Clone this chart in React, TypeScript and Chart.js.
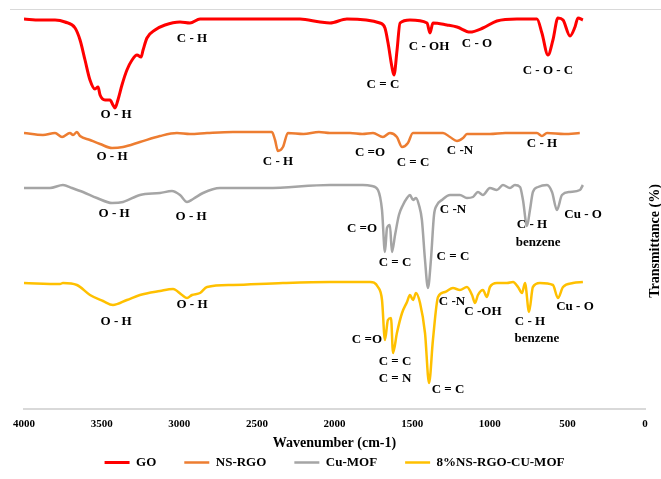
import React, { useEffect, useRef } from 'react';
import { Chart, registerables } from 'chart.js';

Chart.register(...registerables);

const FONT = "'Liberation Serif', 'Times New Roman', serif";

const SERIES_NAMES = ['GO', 'NS-RGO', 'Cu-MOF', '8%NS-RGO-CU-MOF'];
const SERIES_COLORS = ['#FF0000', '#ED7D31', '#A5A5A5', '#FFC000'];
const SERIES_WIDTHS = [3, 2.5, 2.5, 2.5];

const X_TICK_STEP = 500;
const X_MIN = 0;
const X_MAX = 4000;
const Y_MIN = 0;
const Y_MAX = 400;

// GO (offset transmittance, arbitrary units)
const GO_WN = [4000, 3897, 3800, 3736, 3671, 3639, 3607, 3575, 3543, 3523, 3510, 3478, 3446, 3427, 3414, 3395, 3369, 3337, 3304, 3272, 3246, 3233, 3208, 3156, 3092, 2995, 2931, 2866, 2609, 2351, 2222, 2093, 2029, 1920, 1707, 1675, 1655, 1630, 1617, 1597, 1578, 1514, 1404, 1385, 1366, 1276, 1211, 1127, 1044, 954, 825, 696, 664, 625, 593, 561, 528, 483, 451, 432, 400];
const GO_T = [390, 389, 389, 387, 381, 369, 349, 329, 320, 322, 314, 309, 309, 304, 301, 309, 324, 339, 349, 354, 352, 359, 371, 379, 384, 387, 386, 390, 390, 390, 390, 387, 386, 390, 386, 381, 366, 342, 334, 359, 386, 389, 386, 376, 386, 384, 382, 377, 381, 388, 390, 390, 376, 354, 369, 391, 389, 373, 382, 391, 389];

// NS-RGO
const NS_WN = [4000, 3878, 3800, 3755, 3704, 3684, 3659, 3639, 3575, 3510, 3433, 3362, 3253, 3124, 3015, 2931, 2821, 2654, 2403, 2383, 2364, 2332, 2300, 2200, 2100, 2029, 1900, 1820, 1752, 1688, 1643, 1598, 1565, 1527, 1495, 1385, 1301, 1256, 1211, 1172, 1147, 999, 900, 825, 696, 664, 631, 520, 420];
const NS_T = [276, 274, 276, 272, 276, 274, 277, 273, 269, 265, 261, 262, 267, 273, 276, 275, 276, 277, 277, 269, 258, 262, 276, 275, 277, 276, 276, 275, 276, 272, 276, 272, 262, 266, 276, 276, 276, 272, 268, 271, 275, 275, 276, 276, 276, 273, 276, 275, 276];

// Cu-MOF
const CU_WN = [4000, 3833, 3749, 3691, 3620, 3530, 3433, 3362, 3253, 3124, 3047, 2995, 2950, 2911, 2847, 2738, 2435, 2029, 1817, 1759, 1720, 1694, 1675, 1662, 1643, 1630, 1610, 1585, 1559, 1533, 1514, 1494, 1475, 1456, 1437, 1417, 1398, 1379, 1359, 1340, 1308, 1256, 1192, 1147, 1108, 1076, 1044, 999, 954, 915, 870, 838, 805, 786, 760, 741, 722, 689, 631, 599, 567, 535, 483, 419, 400];
const CU_T = [221, 221, 224, 221, 217, 211, 206, 207, 214, 216, 218, 214, 207, 210, 216, 221, 221, 224, 224, 223, 219, 199, 157, 181, 184, 157, 174, 194, 204, 211, 214, 209, 211, 204, 189, 149, 121, 149, 194, 204, 209, 214, 214, 211, 212, 217, 214, 221, 219, 224, 221, 224, 222, 209, 183, 199, 217, 222, 224, 217, 199, 214, 217, 219, 224];

// 8%NS-RGO-CU-MOF
const NC_WN = [4000, 3768, 3749, 3659, 3575, 3491, 3427, 3337, 3253, 3124, 3040, 2982, 2950, 2918, 2866, 2821, 2654, 2332, 2029, 1771, 1720, 1694, 1675, 1656, 1636, 1623, 1598, 1565, 1533, 1514, 1494, 1475, 1449, 1417, 1391, 1366, 1333, 1288, 1237, 1192, 1147, 1114, 1095, 1076, 1044, 1018, 999, 954, 889, 850, 818, 792, 773, 747, 722, 677, 593, 561, 528, 464, 400];
const NC_T = [126, 125, 126, 124, 114, 108, 104, 109, 114, 118, 120, 114, 111, 114, 116, 122, 124, 126, 127, 127, 122, 109, 69, 89, 91, 56, 76, 96, 107, 114, 109, 116, 106, 76, 26, 69, 112, 117, 121, 119, 122, 114, 106, 114, 119, 112, 122, 126, 126, 127, 122, 116, 126, 97, 122, 126, 124, 111, 122, 126, 127];

// Peak labels: [text, wavenumber, value]
const GO_LABELS: [string, number, number][] = [
  ['O - H', 3407, 294],
  ['C - H', 2918, 370],
  ['C = C', 1688, 324],
  ['C - OH', 1391, 362],
  ['C - O', 1082, 365],
  ['C - O - C', 625, 338],
];
const NS_LABELS: [string, number, number][] = [
  ['O - H', 3433, 252],
  ['C - H', 2364, 247],
  ['C =O', 1771, 256],
  ['C = C', 1494, 246],
  ['C -N', 1192, 258],
  ['C - H', 664, 265],
];
const CU_LABELS: [string, number, number][] = [
  ['O - H', 3420, 195],
  ['O - H', 2924, 192],
  ['C =O', 1823, 180],
  ['C = C', 1610, 146],
  ['C = C', 1237, 152],
  ['C -N', 1237, 199],
  ['C - H', 728, 184],
  ['benzene', 689, 166],
  ['Cu - O', 399, 194],
];
const NC_LABELS: [string, number, number][] = [
  ['O - H', 3407, 87],
  ['O - H', 2918, 104],
  ['C =O', 1791, 69],
  ['C = C', 1610, 47],
  ['C = N', 1610, 30],
  ['C = C', 1269, 19],
  ['C -N', 1243, 107],
  ['C -OH', 1044, 97],
  ['C - H', 741, 87],
  ['benzene', 696, 70],
  ['Cu - O', 451, 102],
];

const Y_TITLE = 'Transmittance (%)';
const X_TITLE = 'Wavenumber (cm-1)';

const SERIES_WN = [GO_WN, NS_WN, CU_WN, NC_WN];
const SERIES_T = [GO_T, NS_T, CU_T, NC_T];
const ALL_LABELS = [...GO_LABELS, ...NS_LABELS, ...CU_LABELS, ...NC_LABELS];

const labelsPlugin = {
  id: 'peakLabels',
  afterDatasetsDraw(chart: any) {
    const { ctx, chartArea } = chart;
    const xs = chart.scales.x;
    const ys = chart.scales.y;
    ctx.save();
    ctx.fillStyle = '#000';
    ctx.textAlign = 'center';
    ctx.textBaseline = 'middle';
    ctx.font = `bold 13px ${FONT}`;
    for (const [text, wn, v] of ALL_LABELS) {
      ctx.fillText(text, xs.getPixelForValue(wn), ys.getPixelForValue(v));
    }
    ctx.translate(chartArea.right + 10, (chartArea.top + chartArea.bottom) / 2 + 32);
    ctx.rotate(-Math.PI / 2);
    ctx.font = `bold 14px ${FONT}`;
    ctx.fillText(Y_TITLE, 0, 0);
    ctx.restore();
  },
};

export default function App() {
  const ref = useRef<HTMLCanvasElement>(null);

  useEffect(() => {
    if (!ref.current) return;
    const datasets = SERIES_NAMES.map((name, i) => ({
      label: name,
      data: SERIES_WN[i].map((wn, j) => ({ x: wn, y: SERIES_T[i][j] })),
      borderColor: SERIES_COLORS[i],
      backgroundColor: SERIES_COLORS[i],
      borderWidth: SERIES_WIDTHS[i],
      pointRadius: 0,
      fill: false,
      cubicInterpolationMode: 'monotone' as const,
      borderJoinStyle: 'round' as const,
    }));
    const chart = new Chart(ref.current, {
      type: 'line',
      data: { datasets },
      plugins: [labelsPlugin],
      options: {
        animation: false,
        responsive: false,
        layout: { padding: { left: 24, right: 16, top: 9, bottom: 0 } },
        plugins: {
          tooltip: { enabled: false },
          legend: {
            position: 'bottom',
            labels: {
              usePointStyle: true,
              pointStyle: 'line',
              pointStyleWidth: 25,
              padding: 28,
              color: '#000',
              font: { family: FONT, size: 13, weight: 'bold' },
            },
          },
        },
        scales: {
          x: {
            type: 'linear',
            reverse: true,
            min: X_MIN,
            max: X_MAX,
            grid: { display: false, drawTicks: false },
            border: { display: true, color: '#d9d9d9', width: 2 },
            ticks: {
              stepSize: X_TICK_STEP,
              autoSkip: false,
              maxRotation: 0,
              padding: 9,
              color: '#000',
              font: { family: FONT, size: 11, weight: 'bold' },
              callback: (v: any) => String(v),
            },
            title: {
              display: true,
              text: X_TITLE,
              color: '#000',
              font: { family: FONT, size: 14, weight: 'bold' },
              padding: { top: 0, bottom: -23.4 },
            },
            afterFit: (s: any) => {
              s.height = 19;
            },
          },
          y: { display: false, min: Y_MIN, max: Y_MAX },
        },
      },
    } as any);
    return () => chart.destroy();
  }, []);

  return (
    <div style={{ position: 'fixed', left: 0, top: 0, width: 661, height: 479, background: '#fff' }}>
      <canvas ref={ref} width={661} height={479} style={{ position: 'absolute', left: 0, top: 0 }} />
      <div style={{ position: 'absolute', left: 10, right: 0, top: 9, height: 1, background: '#d9d9d9' }} />
    </div>
  );
}
